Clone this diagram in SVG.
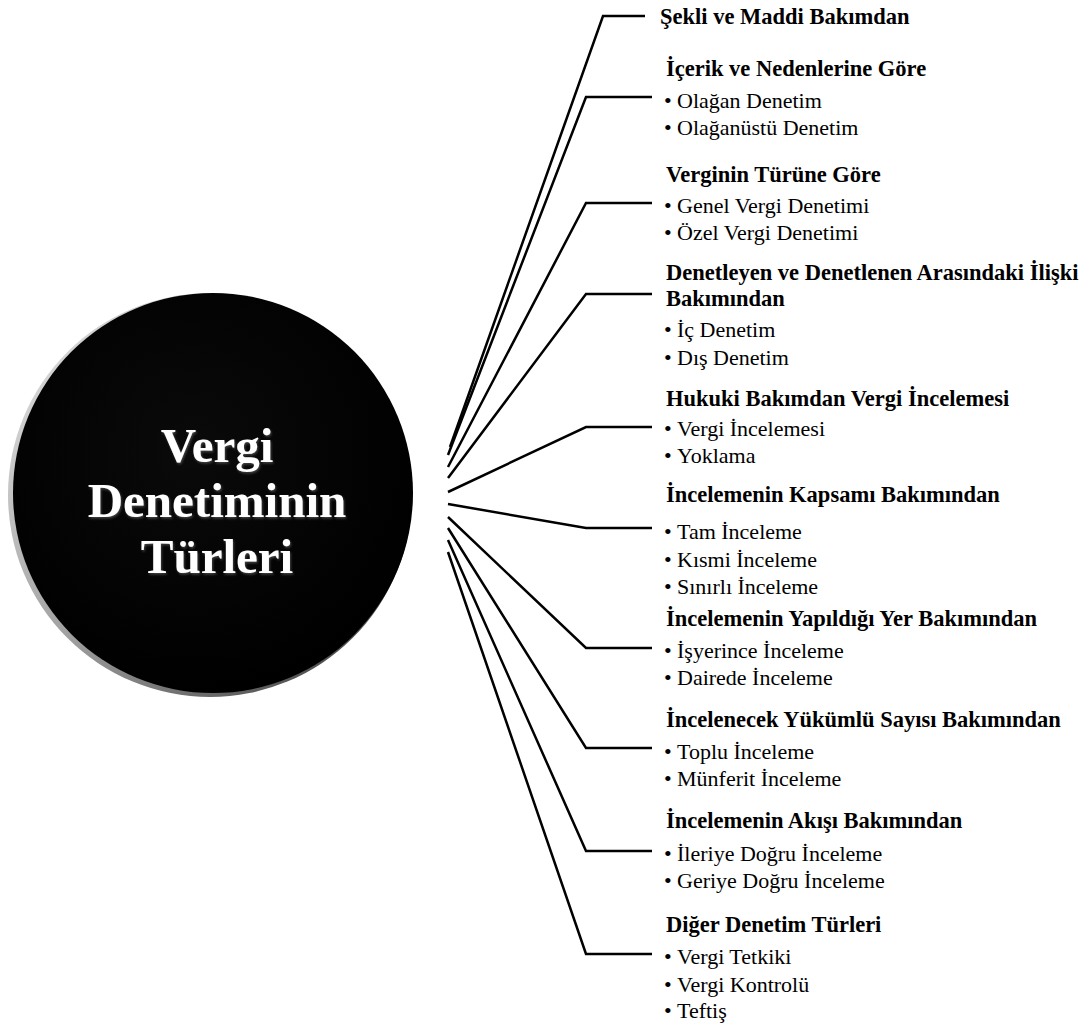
<svg xmlns="http://www.w3.org/2000/svg" width="1091" height="1027" viewBox="0 0 1091 1027">
<defs>
<linearGradient id="rim" x1="0" y1="0" x2="1" y2="1">
<stop offset="0" stop-color="#e8e8e8"/>
<stop offset="0.5" stop-color="#a0a0a0"/>
<stop offset="1" stop-color="#303030"/>
</linearGradient>
<radialGradient id="face" cx="0.45" cy="0.4" r="0.6">
<stop offset="0" stop-color="#0a0a0a"/>
<stop offset="1" stop-color="#000"/>
</radialGradient>
<filter id="sh" x="-10%" y="-10%" width="120%" height="130%">
<feDropShadow dx="1" dy="1.5" stdDeviation="1" flood-color="#555" flood-opacity="0.8"/>
</filter>
</defs>
<style>
.c{fill:none;stroke:#000;stroke-width:2.5;stroke-linejoin:miter}
.h{font-family:"Liberation Serif","Times New Roman",serif;font-weight:bold;font-size:22.5px;fill:#000}
.b{font-family:"Liberation Serif","Times New Roman",serif;font-size:22px;fill:#000}
.t{font-family:"Liberation Serif","Times New Roman",serif;font-weight:bold;font-size:49px;fill:#fff;text-anchor:middle}
</style>
<rect width="1091" height="1027" fill="#fff"/>
<g id="center">
<circle cx="210" cy="495" r="202" fill="url(#rim)"/>
<circle cx="213" cy="493" r="200" fill="url(#face)"/>
<text class="t" filter="url(#sh)"><tspan x="217" y="462">Vergi</tspan><tspan x="217" y="517">Denetiminin</tspan><tspan x="217" y="573">Türleri</tspan></text>
</g>
<g id="connectors">
<polyline class="c" points="450,447 603,16 645,16"/>
<polyline class="c" points="448,455 586,97 652,97"/>
<polyline class="c" points="448,467 586,203 652,203"/>
<polyline class="c" points="448,478 586,294 652,294"/>
<polyline class="c" points="448,492 586,427 652,427"/>
<polyline class="c" points="448,504 586,528 652,528"/>
<polyline class="c" points="448,517 586,648 652,648"/>
<polyline class="c" points="448,528 586,748 652,748"/>
<polyline class="c" points="448,540 586,851 652,851"/>
<polyline class="c" points="448,552 586,954 652,954"/>
</g>
<g id="n1"><text class="h" x="660" y="24">Şekli ve Maddi Bakımdan</text></g>
<g id="n2"><text class="h" x="666" y="76">İçerik ve Nedenlerine Göre</text>
<text class="b" x="664" y="108">•</text><text class="b" x="677" y="108">Olağan Denetim</text>
<text class="b" x="664" y="135">•</text><text class="b" x="677" y="135">Olağanüstü Denetim</text></g>
<g id="n3"><text class="h" x="666" y="182">Verginin Türüne Göre</text>
<text class="b" x="664" y="213">•</text><text class="b" x="677" y="213">Genel Vergi Denetimi</text>
<text class="b" x="664" y="240">•</text><text class="b" x="677" y="240">Özel Vergi Denetimi</text></g>
<g id="n4"><text class="h"><tspan x="666" y="280">Denetleyen ve Denetlenen Arasındaki İlişki</tspan><tspan x="666" y="306">Bakımından</tspan></text>
<text class="b" x="664" y="337">•</text><text class="b" x="677" y="337">İç Denetim</text>
<text class="b" x="664" y="365">•</text><text class="b" x="677" y="365">Dış Denetim</text></g>
<g id="n5"><text class="h" x="666" y="406">Hukuki Bakımdan Vergi İncelemesi</text>
<text class="b" x="664" y="436">•</text><text class="b" x="677" y="436">Vergi İncelemesi</text>
<text class="b" x="664" y="463">•</text><text class="b" x="677" y="463">Yoklama</text></g>
<g id="n6"><text class="h" x="666" y="502">İncelemenin Kapsamı Bakımından</text>
<text class="b" x="664" y="539">•</text><text class="b" x="677" y="539">Tam İnceleme</text>
<text class="b" x="664" y="567">•</text><text class="b" x="677" y="567">Kısmi İnceleme</text>
<text class="b" x="664" y="594">•</text><text class="b" x="677" y="594">Sınırlı İnceleme</text></g>
<g id="n7"><text class="h" x="666" y="626">İncelemenin Yapıldığı Yer Bakımından</text>
<text class="b" x="664" y="658">•</text><text class="b" x="677" y="658">İşyerince İnceleme</text>
<text class="b" x="664" y="685">•</text><text class="b" x="677" y="685">Dairede İnceleme</text></g>
<g id="n8"><text class="h" x="666" y="727">İncelenecek Yükümlü Sayısı Bakımından</text>
<text class="b" x="664" y="759">•</text><text class="b" x="677" y="759">Toplu İnceleme</text>
<text class="b" x="664" y="786">•</text><text class="b" x="677" y="786">Münferit İnceleme</text></g>
<g id="n9"><text class="h" x="666" y="828">İncelemenin Akışı Bakımından</text>
<text class="b" x="664" y="861">•</text><text class="b" x="677" y="861">İleriye Doğru İnceleme</text>
<text class="b" x="664" y="888">•</text><text class="b" x="677" y="888">Geriye Doğru İnceleme</text></g>
<g id="n10"><text class="h" x="666" y="932">Diğer Denetim Türleri</text>
<text class="b" x="664" y="964">•</text><text class="b" x="677" y="964">Vergi Tetkiki</text>
<text class="b" x="664" y="992">•</text><text class="b" x="677" y="992">Vergi Kontrolü</text>
<text class="b" x="664" y="1018">•</text><text class="b" x="677" y="1018">Teftiş</text></g>
</svg>
